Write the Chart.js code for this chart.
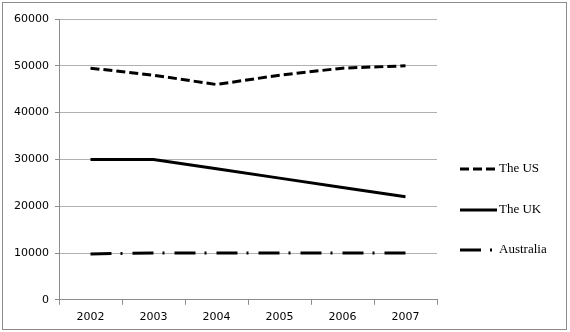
<!DOCTYPE html>
<html>
<head>
<meta charset="utf-8">
<script src="https://cdn.jsdelivr.net/npm/chart.js@4/dist/chart.umd.min.js"></script>
<style>
  html, body { margin: 0; padding: 0; background: #fff; }
  #wrap { width: 570px; height: 332px; position: relative; }
</style>
</head>
<body>
<div id="wrap"><canvas id="chart" width="570" height="332"></canvas></div>
<script>
// Données du graphique
const years = ['2002', '2003', '2004', '2005', '2006', '2007'];
const usValues = [49500, 48000, 46000, 48000, 49500, 50000];
const ukValues = [30000, 30000, 28000, 26000, 24000, 22000];
const australiaValues = [9800, 10000, 10000, 10000, 10000, 10000];
const seriesNames = ['The US', 'The UK', 'Australia'];

// Légende dessinée à droite, comme dans l'original
const sideLegend = {
  id: 'sideLegend',
  afterDraw(chart) {
    const ctx = chart.ctx;
    ctx.save();
    // cadre gris autour de l'image
    ctx.strokeStyle = '#8c8c8c';
    ctx.lineWidth = 1;
    ctx.setLineDash([]);
    ctx.strokeRect(2.5, 2.5, 564, 327);

    const ys = [169, 210, 250];
    chart.data.datasets.forEach((ds, i) => {
      ctx.beginPath();
      ctx.strokeStyle = ds.borderColor;
      ctx.lineWidth = ds.borderWidth;
      ctx.setLineDash(ds.borderDash || []);
      ctx.moveTo(460, ys[i]);
      ctx.lineTo(497, ys[i]);
      ctx.stroke();
      ctx.setLineDash([]);
      ctx.fillStyle = '#000';
      ctx.font = '13px "Liberation Serif"';
      ctx.textBaseline = 'middle';
      ctx.fillText(ds.label, 499, ys[i]);
    });
    ctx.restore();
  }
};

new Chart(document.getElementById('chart'), {
  type: 'line',
  data: {
    labels: years,
    datasets: [
      { label: seriesNames[0], data: usValues, borderColor: '#000', borderWidth: 3, borderDash: [9, 4], pointRadius: 0, fill: false, tension: 0 },
      { label: seriesNames[1], data: ukValues, borderColor: '#000', borderWidth: 3, pointRadius: 0, fill: false, tension: 0 },
      { label: seriesNames[2], data: australiaValues, borderColor: '#000', borderWidth: 3, borderDash: [21, 9, 2, 10], pointRadius: 0, fill: false, tension: 0 }
    ]
  },
  options: {
    responsive: false,
    animation: false,
    layout: { padding: { left: 6, top: 19, right: 133, bottom: 2 } },
    plugins: { legend: { display: false }, tooltip: { enabled: false } },
    scales: {
      x: {
        offset: true,
        grid: { offset: true, drawOnChartArea: false, drawTicks: true, tickLength: 5, color: '#8c8c8c' },
        border: { color: '#8c8c8c' },
        ticks: { color: '#000', font: { family: 'DejaVu Sans', size: 11 }, padding: 6 }
      },
      y: {
        min: 0,
        max: 60000,
        afterFit(scale) { scale.width = 53; },
        ticks: {
          stepSize: 10000,
          color: '#000',
          font: { family: 'DejaVu Sans', size: 11 },
          padding: 6,
          callback: (value) => String(value)
        },
        grid: { color: '#b0b0b0', tickLength: 4, tickColor: '#8c8c8c' },
        border: { color: '#8c8c8c' }
      }
    }
  },
  plugins: [sideLegend]
});
</script>
</body>
</html>
